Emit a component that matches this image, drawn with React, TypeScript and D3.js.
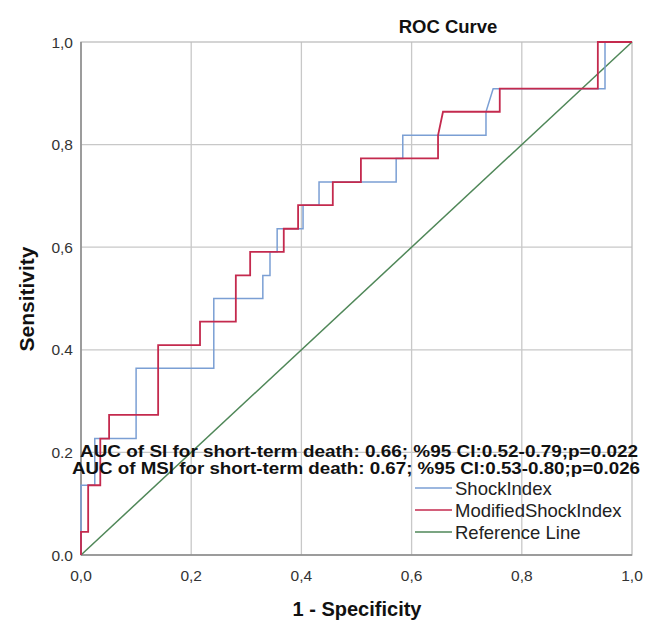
import React from 'react'
import * as d3 from 'd3'

// ROC points: [1 - specificity, sensitivity]
const shockIndex: [number, number][] = [
  [0, 0], [0, 0.136], [0.025, 0.136], [0.025, 0.227], [0.1, 0.227], [0.1, 0.364],
  [0.241, 0.364], [0.241, 0.5], [0.33, 0.5], [0.33, 0.545], [0.343, 0.545], [0.343, 0.591],
  [0.356, 0.591], [0.356, 0.636], [0.403, 0.636], [0.403, 0.682], [0.432, 0.682], [0.432, 0.727],
  [0.572, 0.727], [0.572, 0.773], [0.584, 0.773], [0.584, 0.818], [0.735, 0.818], [0.735, 0.864],
  [0.748, 0.909], [0.951, 0.909], [0.951, 1], [1, 1],
]
const modifiedShockIndex: [number, number][] = [
  [0, 0], [0, 0.045], [0.013, 0.045], [0.013, 0.136], [0.035, 0.136], [0.035, 0.227],
  [0.051, 0.227], [0.051, 0.273], [0.14, 0.273], [0.14, 0.409], [0.216, 0.409], [0.216, 0.455],
  [0.281, 0.455], [0.281, 0.545], [0.307, 0.545], [0.307, 0.591], [0.368, 0.591], [0.368, 0.636],
  [0.394, 0.636], [0.394, 0.682], [0.457, 0.682], [0.457, 0.727], [0.508, 0.727], [0.508, 0.773],
  [0.648, 0.773], [0.648, 0.818], [0.657, 0.864], [0.76, 0.864], [0.76, 0.909], [0.938, 0.909],
  [0.938, 1], [1, 1],
]
const referenceLine: [number, number][] = [[0, 0], [1, 1]]

const ticks = [0, 0.2, 0.4, 0.6, 0.8, 1]
const xTickLabels = ['0,0', '0,2', '0,4', '0,6', '0,8', '1,0']
const yTickLabels = ['0.0', '0.2', '0.4', '0,6', '0,8', '1,0']
const aucLines = [
  'AUC of SI for short-term death: 0.66; %95 CI:0.52-0.79;p=0.022',
  'AUC of MSI for short-term death: 0.67; %95 CI:0.53-0.80;p=0.026',
]
const seriesNames = ['ShockIndex', 'ModifiedShockIndex', 'Reference Line']
const seriesColors = ['#7b9fd4', '#c42a4e', '#4f8758']

const font = '"Liberation Sans", Arial, sans-serif'

export default function App() {
  const x = d3.scaleLinear().domain([0, 1]).range([81, 632])
  const y = d3.scaleLinear().domain([0, 1]).range([555, 42])
  const line = d3
    .line<[number, number]>()
    .x((d) => x(d[0]))
    .y((d) => y(d[1]))
  const series = [shockIndex, modifiedShockIndex, referenceLine]

  return (
    <svg width={647} height={622} style={{ position: 'absolute', left: 0, top: 0 }} fontFamily={font}>
      <rect width={647} height={622} fill="#fff" />
      {/* grid */}
      {ticks.slice(1, -1).map((t) => (
        <g key={t}>
          <line x1={x(t)} x2={x(t)} y1={y(0)} y2={y(1)} stroke="#c8c8c8" strokeWidth={1.3} />
          <line x1={x(0)} x2={x(1)} y1={y(t)} y2={y(t)} stroke="#c8c8c8" strokeWidth={1.3} />
        </g>
      ))}
      <rect x={x(0)} y={y(1)} width={x(1) - x(0)} height={y(0) - y(1)} fill="none" stroke="#bdbdbd" strokeWidth={1.3} />
      <line x1={x(0)} x2={x(0)} y1={y(0)} y2={y(1)} stroke="#8a8a8a" strokeWidth={1.5} />
      <line x1={x(0)} x2={x(1)} y1={y(0)} y2={y(0)} stroke="#8a8a8a" strokeWidth={1.5} />

      {/* curves */}
      {[2, 0, 1].map((i) => (
        <path key={i} d={line(series[i]) ?? ''} fill="none" stroke={seriesColors[i]} strokeWidth={i === 1 ? 1.8 : 1.5} />
      ))}

      {/* tick labels */}
      {ticks.map((t, i) => (
        <text key={'x' + t} x={x(t)} y={581} textAnchor="middle" fontSize={15.5} fill="#333">
          {xTickLabels[i]}
        </text>
      ))}
      {ticks.map((t, i) => (
        <text key={'y' + t} x={73} y={y(t) + 5.5} textAnchor="end" fontSize={15.5} fill="#333">
          {yTickLabels[i]}
        </text>
      ))}

      {/* titles */}
      <text x={448} y={33} textAnchor="middle" fontSize={18.5} fontWeight="bold" fill="#111">
        ROC Curve
      </text>
      <text x={357} y={616} textAnchor="middle" fontSize={20} fontWeight="bold" fill="#111">
        1 - Specificity
      </text>
      <text transform="translate(34,299) rotate(-90)" textAnchor="middle" fontSize={21} fontWeight="bold" fill="#111">
        Sensitivity
      </text>

      {/* AUC annotation */}
      {aucLines.map((s, i) => (
        <text
          key={s}
          x={i === 0 ? 80 : 72}
          y={457 + i * 17}
          textLength={i === 0 ? 558 : 568}
          lengthAdjust="spacingAndGlyphs"
          fontSize={16.5}
          fontWeight="bold"
          fill="#111"
        >
          {s}
        </text>
      ))}

      {/* legend */}
      {seriesNames.map((s, i) => (
        <g key={s} transform={`translate(0,${488 + i * 22})`}>
          <line x1={415} x2={452} y1={0} y2={0} stroke={seriesColors[i]} strokeWidth={1.5} />
          <text x={455} y={6.5} fontSize={18.5} fill="#222">
            {s}
          </text>
        </g>
      ))}
    </svg>
  )
}
